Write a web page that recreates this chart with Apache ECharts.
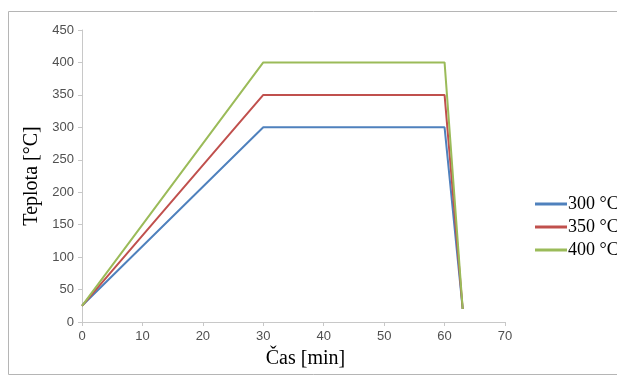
<!DOCTYPE html>
<html>
<head>
<meta charset="utf-8">
<script src="https://cdn.jsdelivr.net/npm/echarts@6/dist/echarts.min.js"></script>
<style>
html, body { margin: 0; padding: 0; background: #fff; }
#main { width: 617px; height: 379px; }
</style>
</head>
<body>
<div id="main"></div>
<script>
// časy [min] a teploty [°C] pro jednotlivé režimy
var cas = [0, 30, 60, 63];
var teplota300 = [25, 300, 300, 20];
var teplota350 = [25, 350, 350, 20];
var teplota400 = [25, 400, 400, 20];
var nazvy = ['300 °C', '350 °C', '400 °C'];

function body(x, y) {
    return x.map(function (v, i) { return [v, y[i]]; });
}

var myChart = echarts.init(document.getElementById('main'));
var option = {
    animation: false,
    color: ['#4F81BD', '#C0504D', '#9BBB59'],
    graphic: [{
        type: 'rect',
        shape: { x: 8.5, y: 11.5, width: 640, height: 363 },
        style: { fill: 'none', stroke: '#b5b5b5', lineWidth: 1 }
    }],
    legend: {
        orient: 'vertical',
        left: 530,
        top: 190,
        itemGap: 5,
        itemWidth: 32,
        itemHeight: 3,
        icon: 'rect',
        data: nazvy,
        textStyle: { fontFamily: 'Liberation Serif', fontSize: 18, color: '#000', padding: [0, 0, 0, -4] }
    },
    grid: {
        left: 82,
        right: 112,
        top: 30,
        bottom: 57
    },
    xAxis: {
        type: 'value',
        min: 0,
        max: 70,
        interval: 10,
        name: 'Čas [min]',
        nameLocation: 'middle',
        nameGap: 27,
        nameTextStyle: { fontFamily: 'Liberation Serif', fontSize: 20, color: '#000', padding: [0, 0, 0, 24] },
        axisLine: { lineStyle: { color: '#c8c8c8' } },
        axisTick: { show: true, length: 4, lineStyle: { color: '#c8c8c8' } },
        axisLabel: { color: '#505050', fontSize: 13, fontFamily: 'Liberation Sans', margin: 8 },
        splitLine: { show: false }
    },
    yAxis: {
        type: 'value',
        min: 0,
        max: 450,
        interval: 50,
        name: 'Teplota [°C]',
        nameLocation: 'middle',
        nameGap: 40,
        nameTextStyle: { fontFamily: 'Liberation Serif', fontSize: 20, color: '#000' },
        axisLine: { show: true, lineStyle: { color: '#c8c8c8' } },
        axisTick: { show: true, length: 4, lineStyle: { color: '#c8c8c8' } },
        axisLabel: { color: '#505050', fontSize: 13, fontFamily: 'Liberation Sans', margin: 8 },
        splitLine: { show: false }
    },
    series: [
        { name: nazvy[0], type: 'line', data: body(cas, teplota300), showSymbol: false, lineStyle: { width: 2 } },
        { name: nazvy[1], type: 'line', data: body(cas, teplota350), showSymbol: false, lineStyle: { width: 2 } },
        { name: nazvy[2], type: 'line', data: body(cas, teplota400), showSymbol: false, lineStyle: { width: 2 } }
    ]
};
myChart.setOption(option);
</script>
</body>
</html>
